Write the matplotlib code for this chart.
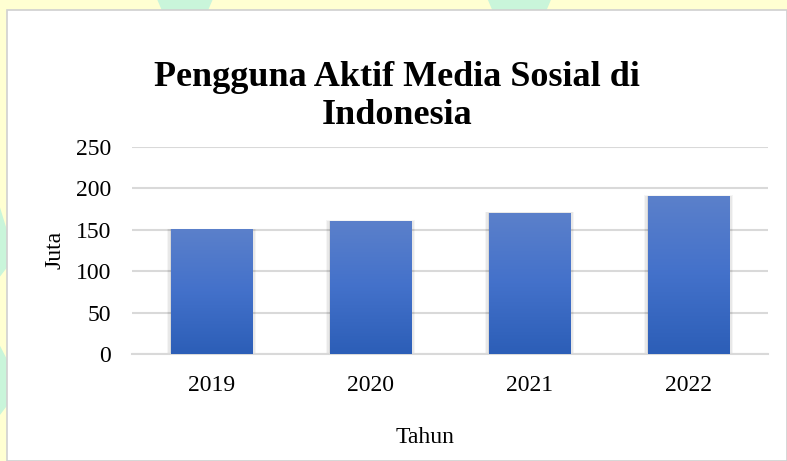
import matplotlib
matplotlib.use("Agg")
import matplotlib.pyplot as plt
import numpy as np
from matplotlib.patches import Rectangle, Polygon
from matplotlib.colors import LinearSegmentedColormap

years = ["2019", "2020", "2021", "2022"]
values = [150, 160, 170, 190]
yticks = [0, 50, 100, 150, 200, 250]
title = "Pengguna Aktif Media Sosial di\nIndonesia"
xlabel = "Tahun"
ylabel = "Juta"

plt.rcParams['font.family'] = ['Liberation Serif', 'DejaVu Serif']

fig = plt.figure(figsize=(7.87, 4.61), dpi=100)
fig.patch.set_facecolor('#FFFFD2')

# faint watermark shapes in background
wm = [
    [(0.20, 1.0), (0.27, 1.0), (0.26, 0.96), (0.21, 0.96)],
    [(0.62, 1.0), (0.70, 1.0), (0.69, 0.96), (0.63, 0.96)],
    [(0.0, 0.55), (0.009, 0.50), (0.009, 0.42), (0.0, 0.40)],
    [(0.0, 0.25), (0.009, 0.22), (0.009, 0.12), (0.0, 0.10)],
]
for p in wm:
    fig.add_artist(Polygon(p, closed=True, transform=fig.transFigure,
                           facecolor='#C9F5DA', edgecolor='none', zorder=-3))

# white chart panel
fig.add_artist(Rectangle((7/787, 0), 1 - 7/787, 1 - 10/461, transform=fig.transFigure,
                         facecolor='white', edgecolor='#D0D0D0', linewidth=1.2, zorder=-2))

ax = fig.add_axes([132/787, 1 - 354/461, (768 - 132)/787, (354 - 147)/461])
ax.set_zorder(1)
ax.set_facecolor('none')
x = np.arange(len(years))
bars = ax.bar(x, values, width=0.51, color='none', zorder=3)

cmap = LinearSegmentedColormap.from_list('g', ['#2C5EB7', '#4371CA', '#5B80CB'])
grad = np.linspace(0, 1, 256).reshape(-1, 1)
for b in bars:
    x0, w, h = b.get_x(), b.get_width(), b.get_height()
    # soft shadow
    for i, a in enumerate([0.07, 0.05, 0.04]):
        d = 0.008 * (i + 1)
        ax.add_patch(Rectangle((x0 - d, -1), w + 2 * d, h + 1 + d * 60,
                               facecolor='black', alpha=a, edgecolor='none', zorder=2))
    ax.imshow(grad, extent=(x0, x0 + w, 0, h), origin='lower', cmap=cmap,
              aspect='auto', zorder=3, interpolation='bilinear')

ax.set_xlim(-0.5, len(years) - 0.5)
ax.set_ylim(0, 250)
ax.set_yticks(yticks)
ax.set_xticks(x)
ax.set_xticklabels(years)
ax.yaxis.grid(True, color='#D9D9D9', linewidth=1.5, zorder=1)
ax.set_axisbelow(True)
for s in ['top', 'right', 'left']:
    ax.spines[s].set_visible(False)
ax.spines['bottom'].set_color('#D9D9D9')
ax.spines['bottom'].set_linewidth(1.5)
ax.tick_params(length=0, labelsize=17)
ax.tick_params(axis='y', pad=15)
ax.tick_params(axis='x', pad=15)

fig.text(425/787, 1 - 437/461, xlabel, ha='center', va='center', fontsize=17)
fig.text(55/787, 1 - 250/461, ylabel, ha='center', va='center', rotation=90, fontsize=17)
fig.text(397/787, 1 - 96/461, title, ha='center', va='center', fontsize=26,
         fontweight='bold', linespacing=1.2)

fig.savefig('out.png', dpi=100, facecolor=fig.get_facecolor())
